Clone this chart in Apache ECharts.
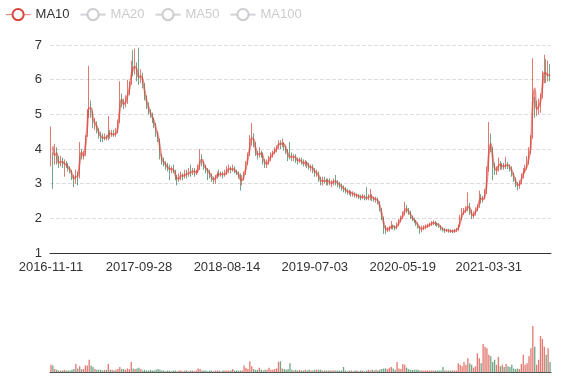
<!DOCTYPE html>
<html><head><meta charset="utf-8">
<script src="https://cdn.jsdelivr.net/npm/echarts@6/dist/echarts.min.js"></script>
<style>html,body{margin:0;padding:0;background:#fff}#c{width:577px;height:380px}</style>
</head><body><div id="c"></div>
<script>
// x-axis tick labels shown on the chart
const tickLabels = ['2016-11-11','2017-09-28','2018-08-14','2019-07-03','2020-05-19','2021-03-31'];
// first week of the series (weekly sampling)
const firstDate = '2016-11-11';
// weekly candles: [open, close, low, high]
const candles = [
[4.2,4.6,3.5,4.65],[3.8,3.55,2.85,3.9],[3.6,4.1,3.55,4.15],[4.0,3.65,3.55,4.05],[3.65,3.55,3.45,3.8],
[3.55,3.7,3.5,3.8],[3.7,3.55,3.45,3.75],[3.55,3.6,3.2,3.7],[3.6,3.5,3.45,3.65],[3.5,3.45,3.35,3.6],
[3.45,3.35,3.3,3.5],[3.35,3.2,3.1,3.4],[3.2,3.1,2.9,3.25],[3.1,3.3,3.0,3.4],[3.3,3.15,2.95,3.35],
[3.2,4.05,3.15,4.2],[3.95,3.75,3.7,4.0],[3.75,3.85,3.7,3.95],[3.85,4.3,3.8,4.4],[4.4,5.0,4.35,5.15],
[5.0,5.35,4.9,6.4],[5.3,5.0,4.9,5.4],[5.0,4.75,4.6,5.1],[4.7,4.75,4.55,4.9],[4.75,4.55,4.45,4.8],
[4.55,4.4,4.3,4.6],[4.4,4.35,4.2,4.5],[4.35,4.3,4.2,4.45],[4.3,4.35,4.25,4.45],[4.35,4.3,4.25,4.4],
[4.3,4.5,4.25,4.95],[4.5,4.4,4.3,4.55],[4.4,4.45,4.35,4.55],[4.45,4.4,4.35,4.55],[4.4,4.5,4.35,4.6],
[4.5,4.75,4.45,4.85],[4.8,5.5,4.75,5.95],[5.5,5.35,5.2,5.6],[5.35,5.25,5.15,5.45],[5.25,5.45,5.2,5.55],
[5.45,5.6,5.3,6.0],[5.6,5.85,5.55,5.95],[5.9,6.35,5.85,6.55],[6.35,6.3,6.1,6.85],[6.3,6.45,6.15,6.9],
[6.4,6.1,5.95,6.5],[6.3,6.05,5.85,6.92],[6.05,6.15,5.9,6.3],[6.15,5.85,5.75,6.2],[5.85,5.5,5.4,5.9],
[5.5,5.3,5.15,5.55],[5.3,5.1,5.0,5.35],[5.1,5.0,4.9,5.15],[5.0,4.85,4.75,5.05],[4.85,4.7,4.6,4.9],
[4.7,4.45,4.35,4.75],[4.45,4.3,4.2,4.5],[4.25,3.8,3.7,4.3],[3.8,3.65,3.55,3.85],[3.65,3.6,3.5,3.75],
[3.6,3.5,3.4,3.65],[3.5,3.45,3.35,3.6],[3.45,3.4,3.1,3.55],[3.4,3.45,3.3,3.5],[3.45,3.35,3.3,3.55],
[3.35,3.2,3.1,3.4],[3.2,3.1,2.95,3.25],[3.1,3.2,3.05,3.3],[3.2,3.25,3.1,3.35],[3.25,3.2,3.1,3.3],
[3.2,3.3,3.15,3.4],[3.3,3.25,3.15,3.4],[3.25,3.35,3.2,3.45],[3.35,3.3,3.2,3.55],[3.3,3.4,3.25,3.45],
[3.4,3.3,3.2,3.45],[3.3,3.35,3.25,3.4],[3.35,3.45,3.3,3.55],[3.45,3.8,3.4,4.0],[3.8,3.6,3.5,3.85],
[3.6,3.5,3.4,3.65],[3.5,3.4,3.3,3.55],[3.4,3.35,3.1,3.45],[3.35,3.25,3.15,3.4],[3.25,3.15,3.05,3.3],
[3.15,3.1,3.0,3.2],[3.1,3.2,3.0,3.25],[3.2,3.3,3.15,3.35],[3.3,3.25,3.2,3.4],[3.25,3.3,3.2,3.35],
[3.3,3.25,3.15,3.35],[3.25,3.3,3.2,3.4],[3.3,3.4,3.25,3.5],[3.4,3.45,3.3,3.55],[3.45,3.4,3.3,3.5],
[3.4,3.45,3.35,3.55],[3.45,3.35,3.3,3.5],[3.38,3.32,3.25,3.4],[3.32,3.25,3.15,3.35],[3.25,3.0,2.8,3.3],
[3.0,3.2,2.95,3.25],[3.2,3.3,3.1,3.35],[3.3,3.6,3.25,3.65],[3.6,3.85,3.55,3.9],[3.85,4.2,3.8,4.4],
[4.2,4.4,4.1,4.75],[4.4,4.15,4.05,4.45],[4.15,3.9,3.8,4.2],[3.9,3.8,3.7,3.95],[3.8,3.9,3.75,4.05],
[3.9,3.85,3.75,3.95],[3.85,3.65,3.55,3.9],[3.65,3.55,3.45,3.7],[3.55,3.6,3.45,3.7],[3.6,3.75,3.55,3.8],
[3.75,3.8,3.65,3.9],[3.8,3.9,3.75,3.95],[3.9,3.95,3.85,4.05],[3.95,4.05,3.9,4.1],[4.05,4.2,4.0,4.25],
[4.2,4.1,4.0,4.25],[4.1,4.2,4.05,4.3],[4.2,4.05,3.95,4.2],[4.05,3.95,3.85,4.1],[3.95,3.75,3.65,4.0],
[3.95,3.8,3.7,4.2],[3.8,3.75,3.65,3.9],[3.75,3.8,3.65,3.85],[3.8,3.7,3.6,3.85],[3.7,3.65,3.55,3.75],
[3.65,3.7,3.6,3.75],[3.7,3.6,3.55,3.75],[3.62,3.58,3.5,3.7],[3.58,3.62,3.5,3.68],[3.62,3.55,3.45,3.65],
[3.55,3.45,3.4,3.6],[3.45,3.5,3.35,3.55],[3.5,3.4,3.3,3.55],[3.4,3.3,3.2,3.45],[3.28,3.32,3.2,3.4],
[3.3,3.15,3.05,3.35],[3.15,3.05,2.95,3.2],[3.05,3.1,2.95,3.2],[3.1,3.05,3.0,3.2],[3.05,3.1,2.95,3.15],
[3.1,3.05,2.95,3.15],[3.05,3.0,2.95,3.15],[3.0,3.05,2.9,3.1],[3.02,3.08,2.95,3.15],[3.08,3.05,2.95,3.25],
[3.05,2.98,2.9,3.1],[2.98,2.95,2.85,3.05],[2.95,2.88,2.8,3.0],[2.88,2.85,2.75,2.95],[2.85,2.8,2.72,2.9],
[2.8,2.75,2.68,2.85],[2.73,2.77,2.67,2.82],[2.77,2.7,2.63,2.8],[2.7,2.72,2.62,2.78],[2.72,2.65,2.6,2.75],
[2.65,2.67,2.58,2.72],[2.67,2.62,2.55,2.7],[2.62,2.6,2.52,2.68],[2.6,2.64,2.55,2.7],[2.64,2.58,2.52,2.68],
[2.65,2.6,2.52,2.9],[2.6,2.62,2.52,2.7],[2.58,2.65,2.52,2.85],[2.65,2.58,2.5,2.7],[2.58,2.55,2.48,2.62],
[2.55,2.56,2.45,2.62],[2.55,2.45,2.4,2.6],[2.45,2.25,2.2,2.5],[2.25,2.0,1.95,2.3],[2.0,1.75,1.55,2.05],
[1.75,1.65,1.55,1.8],[1.65,1.7,1.6,1.75],[1.7,1.72,1.62,1.78],[1.72,1.8,1.68,1.92],[1.8,1.75,1.68,1.82],
[1.75,1.72,1.65,1.8],[1.72,1.82,1.68,1.88],[1.82,1.92,1.78,1.98],[1.92,2.02,1.88,2.08],[2.02,2.12,1.98,2.2],
[2.12,2.32,2.08,2.48],[2.32,2.22,2.15,2.38],[2.22,2.18,2.1,2.3],[2.18,2.05,1.98,2.22],[2.05,1.98,1.92,2.08],
[1.98,1.92,1.86,2.02],[1.92,1.85,1.78,1.95],[1.85,1.75,1.7,1.88],[1.75,1.68,1.55,1.78],[1.68,1.72,1.6,1.78],
[1.72,1.75,1.66,1.8],[1.75,1.76,1.68,1.82],[1.76,1.8,1.72,1.85],[1.8,1.82,1.75,1.88],[1.82,1.86,1.78,1.92],
[1.86,1.88,1.8,1.94],[1.88,1.84,1.78,1.92],[1.84,1.82,1.76,1.88],[1.82,1.78,1.72,1.86],[1.78,1.7,1.65,1.8],
[1.7,1.67,1.62,1.74],[1.67,1.65,1.58,1.72],[1.65,1.66,1.6,1.7],[1.66,1.63,1.58,1.7],[1.63,1.64,1.58,1.68],
[1.64,1.62,1.57,1.68],[1.62,1.65,1.58,1.7],[1.65,1.67,1.6,1.72],[1.67,1.78,1.63,1.82],[1.78,2.0,1.75,2.1],
[2.0,2.15,1.95,2.3],[2.15,2.22,2.1,2.3],[2.22,2.25,2.15,2.35],[2.25,2.4,2.2,2.75],[2.4,2.2,2.1,2.45],
[2.2,2.05,1.98,2.25],[2.05,2.12,2.0,2.2],[2.12,2.25,2.08,2.32],[2.25,2.32,2.2,2.4],[2.32,2.65,2.3,2.8],
[2.65,2.5,2.42,2.7],[2.5,2.6,2.45,2.65],[2.6,2.75,2.55,2.85],[2.75,3.4,2.7,3.5],[3.4,4.3,3.35,4.78],
[4.3,4.0,3.9,4.45],[4.0,3.55,3.1,4.05],[3.55,3.35,3.25,3.6],[3.35,3.42,3.25,3.5],[3.42,3.6,3.35,3.75],
[3.6,3.5,3.4,3.65],[3.5,3.52,3.4,3.6],[3.52,3.48,3.4,3.6],[3.48,3.58,3.42,3.78],[3.58,3.5,3.42,3.62],
[3.5,3.45,3.35,3.55],[3.45,3.3,3.2,3.5],[3.3,3.15,3.05,3.32],[3.15,3.0,2.9,3.18],[3.0,2.92,2.8,3.05],
[2.92,3.02,2.85,3.1],[3.02,3.22,2.98,3.3],[3.22,3.35,3.15,3.45],[3.35,3.45,3.3,3.55],[3.45,3.6,3.4,3.8],
[3.6,3.95,3.55,4.05],[3.95,4.3,3.85,4.4],[4.4,6.4,4.3,6.62],[5.4,5.1,4.9,5.5],[5.1,5.2,4.95,5.4],
[5.2,5.25,5.0,5.45],[5.25,5.5,5.05,5.6],[5.5,6.1,5.45,6.25],[6.1,6.3,5.9,6.72],[6.3,6.05,5.9,6.6],
[6.05,6.2,5.95,6.55],[6.2,6.1,5.95,6.45]
];
// weekly volume (arbitrary units)
const volumes = [
10,9,4,3,2,2,2,3,2,2, 2,3,4,11,5,8,4,4,9,9,
17,9,7,4,3,3,3,2,3,3, 11,3,3,2,3,4,7,4,4,3,
5,4,14,5,4,5,6,4,2,3, 2,2,3,2,2,3,4,3,2,2,
1,2,2,1,2,2,1,2,2,1, 2,2,1,2,2,1,2,5,4,2,
2,2,1,2,2,1,2,2,2,1, 2,2,2,2,2,4,2,2,2,2,
2,9,6,4,15,8,4,3,3,6, 3,2,3,3,6,3,3,4,5,14,
15,5,4,3,4,12,3,2,3,2, 3,2,2,3,2,3,2,2,3,3,
3,3,2,2,2,2,2,2,2,2, 2,2,2,7,2,1,2,2,1,2,
2,1,2,2,1,2,3,2,3,2, 3,2,3,4,5,5,4,6,7,5,
3,14,5,4,11,10,6,4,3,3, 3,3,3,2,2,2,2,2,2,2,
2,2,2,2,2,7,2,2,2,2, 2,2,2,12,10,8,14,10,19,12,
10,6,8,26,19,12,39,35,33,24, 22,14,17,10,21,8,10,7,11,8,
7,10,5,4,5,4,11,24,10,12, 22,33,64,35,10,17,50,46,35,24,
33,14
];
const maNames = ['MA10','MA20','MA50','MA100'];
const maWindows = [2,4,10,20]; // windows counted in weekly bars
const maColors = ['#d9443a','#2f4554','#61a0a8','#d48265'];

const DAY = 86400000;
const d0 = Date.parse(firstDate);
const dates = candles.map((_, i) => new Date(d0 + i * 7 * DAY).toISOString().slice(0, 10));
tickLabels.forEach(t => { dates[Math.round((Date.parse(t) - d0) / (7 * DAY))] = t; });

const closes = candles.map(c => c[1]);
function movingAverage(win) {
  return closes.map((_, i) => {
    if (i < win - 1) return '-';
    let s = 0;
    for (let k = i - win + 1; k <= i; k++) s += closes[k];
    return +(s / win).toFixed(3);
  });
}

const upColor = 'rgba(214,58,46,0.68)';
const downColor = 'rgba(44,124,78,0.68)';
const showTick = (idx, val) => tickLabels.indexOf(val) >= 0;

const chart = echarts.init(document.getElementById('c'));
chart.setOption({
  animation: false,
  backgroundColor: '#fff',
  textStyle: { fontFamily: 'sans-serif' },
  legend: {
    left: 0, top: 3, itemGap: 10, itemWidth: 25, itemHeight: 14,
    data: maNames,
    selected: { MA20: false, MA50: false, MA100: false },
    textStyle: { color: '#333', fontSize: 13 },
    itemStyle: { borderWidth: 1.2 },
    lineStyle: { width: 1.2 },
    inactiveColor: '#ccc',
    inactiveBorderColor: '#ccc',
    inactiveBorderWidth: 1.2
  },
  grid: [
    { left: 50, right: 26, top: 45, height: 208 },
    { left: 50, right: 26, top: 300, height: 72 }
  ],
  xAxis: [
    {
      type: 'category', data: dates, gridIndex: 0,
      axisLine: { lineStyle: { color: '#333' } },
      axisTick: { interval: showTick, lineStyle: { color: '#333' } },
      axisLabel: { interval: showTick, color: '#333', fontSize: 13 },
      splitLine: { show: false }
    },
    {
      type: 'category', data: dates, gridIndex: 1,
      axisLine: { lineStyle: { color: '#555' } },
      axisTick: { show: false }, axisLabel: { show: false }, splitLine: { show: false }
    }
  ],
  yAxis: [
    {
      type: 'value', gridIndex: 0, min: 1, max: 7, interval: 1,
      axisLine: { show: false }, axisTick: { show: false },
      axisLabel: { color: '#333', fontSize: 13 },
      splitLine: { lineStyle: { type: 'dashed', color: '#ddd' } }
    },
    { type: 'value', gridIndex: 1, min: 0, max: 100, show: false, splitLine: { show: false } }
  ],
  series: [
    {
      type: 'candlestick', name: 'K', data: candles,
      itemStyle: { color: upColor, color0: downColor, borderColor: upColor, borderColor0: downColor }
    },
    ...maNames.map((n, k) => ({
      type: 'line', name: n, data: movingAverage(maWindows[k]),
      smooth: true, showSymbol: false, symbol: 'emptyCircle',
      color: maColors[k],
      lineStyle: { width: 2, opacity: 0.6, color: maColors[k] }
    })),
    {
      type: 'bar', name: 'Volume', xAxisIndex: 1, yAxisIndex: 1, data: volumes,
      itemStyle: { color: p => candles[p.dataIndex][1] >= candles[p.dataIndex][0] ? upColor : downColor }
    }
  ]
});
</script>
</body></html>
